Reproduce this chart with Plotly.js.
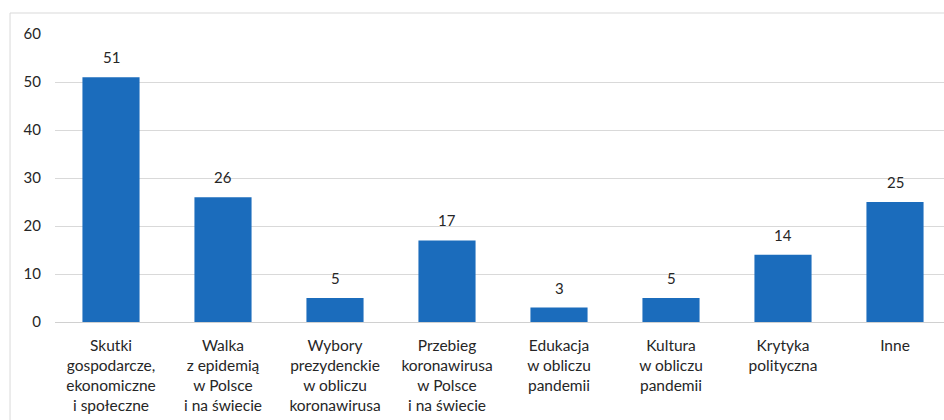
<!DOCTYPE html>
<html>
<head>
<meta charset="utf-8">
<script src="https://cdn.plot.ly/plotly-3.0.1.min.js"></script>
<style>html,body{margin:0;padding:0;background:#fff;}#chart{width:944px;height:420px;}</style>
</head>
<body>
<div id="chart"></div>
<script>
const categories = [
  "Skutki<br>gospodarcze,<br>ekonomiczne<br>i społeczne",
  "Walka<br>z epidemią<br>w Polsce<br>i na świecie",
  "Wybory<br>prezydenckie<br>w obliczu<br>koronawirusa",
  "Przebieg<br>koronawirusa<br>w Polsce<br>i na świecie",
  "Edukacja<br>w obliczu<br>pandemii",
  "Kultura<br>w obliczu<br>pandemii",
  "Krytyka<br>polityczna",
  "Inne"
];
const values = [51, 26, 5, 17, 3, 5, 14, 25];
const yTicks = [0, 10, 20, 30, 40, 50, 60];

const font = {family: "Lato, 'Open Sans', sans-serif", size: 15, color: "#262626"};
const xfont = {family: "Lato, 'Open Sans', sans-serif", size: 15.5, color: "#262626"};
const xIdx = categories.map((_, i) => i);

const trace = {
  type: "bar",
  x: xIdx,
  y: values,
  width: 0.51,
  marker: {color: "#1b6cbc", line: {width: 0}},
  hoverinfo: "none"
};

const annotations = values.map((v, i) => ({
  x: i, y: v, xref: "x", yref: "y",
  text: String(v), showarrow: false,
  yanchor: "bottom", yshift: 9,
  font: font
}));

const layout = {
  width: 944, height: 420,
  margin: {l: 55, r: 0, t: 34, b: 98},
  paper_bgcolor: "#fff", plot_bgcolor: "#fff",
  font: font,
  showlegend: false,
  xaxis: {
    range: [-0.5, 7.4375],
    tickmode: "array", tickvals: xIdx, ticktext: categories,
    showgrid: false, zeroline: false, showline: false,
    ticks: "", ticklabelstandoff: 12,
    tickfont: xfont, fixedrange: true
  },
  yaxis: {
    range: [0, 60],
    tickmode: "array", tickvals: yTicks, ticktext: yTicks.map(String),
    showgrid: true, gridcolor: "#d9d9d9", gridwidth: 1,
    zeroline: true, zerolinecolor: "#d0d0d0", zerolinewidth: 1,
    showline: false, ticks: "", ticklabelstandoff: 13,
    tickfont: font, fixedrange: true
  },
  shapes: [{
    type: "rect", xref: "paper", yref: "paper",
    x0: -0.0506, x1: 1.02, y0: -0.45, y1: 1.0729,
    line: {color: "#d9d9d9", width: 1}, fillcolor: "rgba(0,0,0,0)", layer: "below"
  }],
  annotations: annotations
};

Plotly.newPlot("chart", [trace], layout, {displayModeBar: false, staticPlot: true});
</script>
</body>
</html>
